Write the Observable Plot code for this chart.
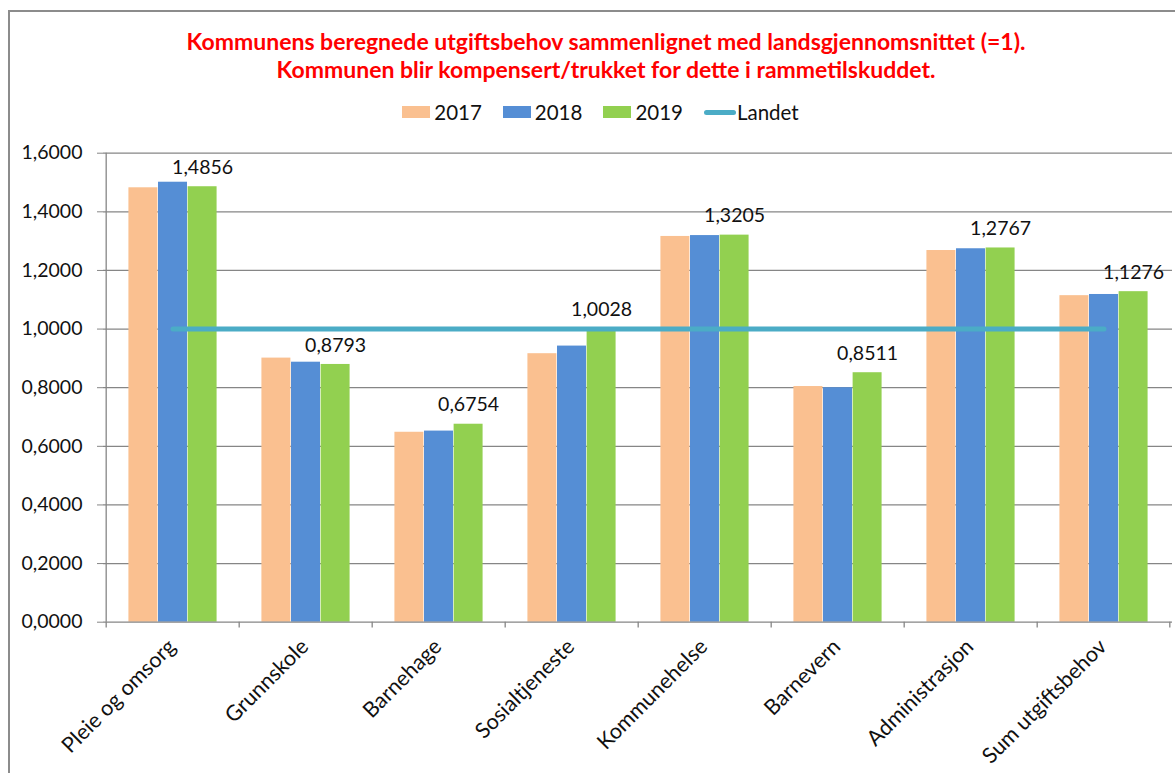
<!DOCTYPE html>
<html>
<head>
<meta charset="utf-8">
<script src="https://cdn.jsdelivr.net/npm/d3@7"></script>
<script src="https://cdn.jsdelivr.net/npm/@observablehq/plot@0.6"></script>
<style>
  html, body { margin: 0; padding: 0; background: #fff; overflow: hidden; }
  #wrap { position: relative; width: 1175px; height: 773px; overflow: hidden; font-family: Lato, "Open Sans", sans-serif; }
  #border { position: absolute; left: 8px; top: 10px; width: 1300px; height: 900px; border-left: 2px solid #8c8c8c; border-top: 2px solid #8c8c8c; }
  #title { position: absolute; left: 0; width: 1212px; top: 27px; text-align: center; color: #ff0000; font-weight: bold; font-size: 23px; line-height: 28px; }
  #legend { position: absolute; top: 100px; left: 0; width: 1222px; display: flex; justify-content: center; align-items: center; font-size: 20.5px; color: #111; }
  .li { display: flex; align-items: center; margin-right: 21px; }
  .sw { width: 28px; height: 12px; margin-right: 4px; }
  .ln { width: 32px; height: 5px; border-radius: 3px; margin-right: 1px; }
  #chart { position: absolute; left: 0; top: 130px; }
  #chart g[aria-label="y-axis tick"], #chart g[aria-label="y-axis"] line { stroke: #868686; }
</style>
</head>
<body>
<div id="wrap">
  <div id="border"></div>
  <div id="title">Kommunens beregnede utgiftsbehov sammenlignet med landsgjennomsnittet (=1).<br>Kommunen blir kompensert/trukket for dette i rammetilskuddet.</div>
  <div id="legend"></div>
  <div id="chart"></div>
</div>
<script>
const categories = ["Pleie og omsorg", "Grunnskole", "Barnehage", "Sosialtjeneste", "Kommunehelse", "Barnevern", "Administrasjon", "Sum utgiftsbehov"];
const years = ["2017", "2018", "2019"];
const v2017 = [1.482, 0.901, 0.648, 0.916, 1.316, 0.804, 1.268, 1.114];
const v2018 = [1.501, 0.887, 0.652, 0.942, 1.319, 0.800, 1.274, 1.118];
const v2019 = [1.4856, 0.8793, 0.6754, 1.0028, 1.3205, 0.8511, 1.2767, 1.1276];
const landet = [1, 1, 1, 1, 1, 1, 1, 1];
const yTicks = [0, 0.2, 0.4, 0.6, 0.8, 1.0, 1.2, 1.4, 1.6];
const colors = ["#FAC090", "#558ED5", "#92D050"];
const landetColor = "#4BACC6";

const rows = categories.map((c, i) => ({cat: c, v2017: v2017[i], v2018: v2018[i], v2019: v2019[i], landet: landet[i]}));
const fields = ["v2017", "v2018", "v2019"];
const fmt = v => d3.format(".4f")(v).replace(".", ",");

// legend
const legend = document.getElementById("legend");
years.forEach((y, i) => {
  const it = document.createElement("div"); it.className = "li";
  it.innerHTML = `<div class="sw" style="background:${colors[i]}"></div><span>${y}</span>`;
  legend.appendChild(it);
});
{
  const it = document.createElement("div"); it.className = "li";
  it.innerHTML = `<div class="ln" style="background:${landetColor}"></div><span>Landet</span>`;
  legend.appendChild(it);
}

const W = 1175, H = 643, ML = 103, MR = 3, MT = 22.7, MB = 151.3;
const step = (W - ML - MR) / categories.length;
const bw = 29.6, gOff = (step - 3 * bw) / 2;
const grid = "#868686";

const barMarks = fields.map((f, i) => Plot.barY(rows, {
  x: "cat", y: f, fill: colors[i],
  insetLeft: gOff + i * bw, insetRight: step - gOff - (i + 1) * bw
}));

const chart = Plot.plot({
  width: W, height: H,
  marginLeft: ML, marginRight: MR, marginTop: MT, marginBottom: MB,
  style: {fontFamily: "Lato, 'Open Sans', sans-serif", fontSize: "19.5px", color: "#111", background: "transparent"},
  x: {type: "band", domain: categories, paddingInner: 0, paddingOuter: 0, label: null, axis: null},
  y: {domain: [0, 1.6], ticks: yTicks, tickFormat: fmt, tickSize: 6, tickPadding: 15, label: null},
  marks: [
    Plot.ruleY(yTicks.slice(1), {stroke: grid, strokeWidth: 1.3}),
    ...barMarks,
    Plot.ruleY([0], {stroke: grid, strokeWidth: 1.3}),
    Plot.ruleX(categories.slice(0, 1), {x: d => d, dx: -step / 2, y1: 0, y2: 1.6, stroke: grid, strokeWidth: 1.3}),
    Plot.ruleX(categories, {x: d => d, dx: -step / 2, y1: 0, y2: -0.02, stroke: grid, strokeWidth: 1.3}),
    Plot.ruleX(categories.slice(-1), {x: d => d, dx: step / 2 - 1, y1: 0, y2: -0.02, stroke: grid, strokeWidth: 1.3}),
    Plot.lineY(rows, {x: "cat", y: "landet", stroke: landetColor, strokeWidth: 5, strokeLinecap: "round"}),
    Plot.text(rows, {x: "cat", y: "v2019", text: d => fmt(d.v2019), dx: gOff + 2.5 * bw - step / 2, dy: -19, fontSize: 19.5, fill: "#111"}),
    Plot.text(categories, {x: d => d, frameAnchor: "bottom", text: d => d, rotate: -45, textAnchor: "end", lineAnchor: "top", dx: -7, dy: 15, fontSize: 21.5, fill: "#111"})
  ]
});
document.getElementById("chart").appendChild(chart);
</script>
</body>
</html>
